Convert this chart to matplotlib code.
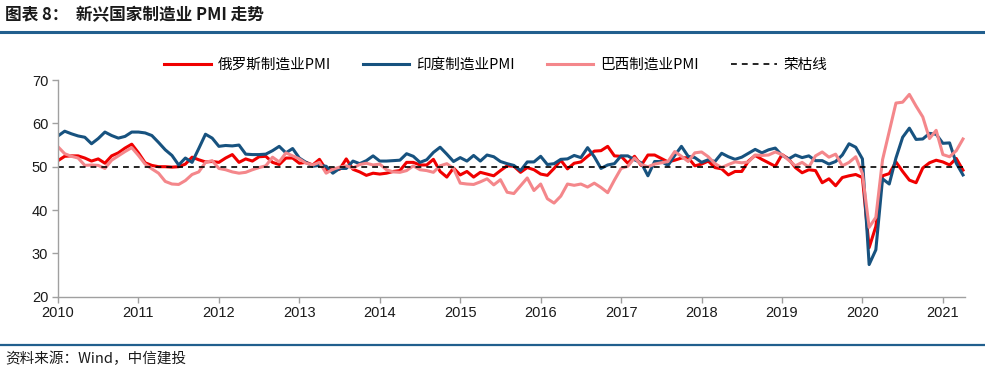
import matplotlib
matplotlib.use('Agg')
import matplotlib.pyplot as plt
import numpy as np
from matplotlib.lines import Line2D

plt.rcParams['font.family'] = ['Noto Sans CJK SC', 'DejaVu Sans']

# monthly, Mar 2010 - Jun 2021
years = [str(y) for y in range(2010, 2022)]

russia = [51.4, 52.4, 52.5, 52.5, 52.0, 51.3, 51.8, 50.8, 52.5, 53.2,
          54.3, 55.2, 53.2, 50.9, 50.3, 50.0, 50.0, 49.9, 50.0, 50.6, 52.2, 51.6,
          51.1, 51.2, 51.0, 52.0, 52.8, 51.0, 51.8, 51.3, 52.3, 52.4, 51.0, 50.5,
          52.0, 52.0, 50.8, 51.0, 50.4, 51.7, 49.3, 49.4, 49.4, 51.8, 49.4, 48.8,
          48.0, 48.5, 48.3, 48.5, 48.9, 49.1, 51.0, 51.0, 50.4, 50.4, 51.7, 48.9,
          47.6, 49.7, 48.1, 48.9, 47.6, 48.7, 48.3, 47.9, 49.1, 50.2, 50.1, 48.7,
          49.8, 49.3, 48.3, 48.0, 49.6, 51.5, 49.5, 50.8, 51.1, 52.4, 53.6, 53.7,
          54.7, 52.5, 52.4, 50.8, 52.4, 50.3, 52.7, 52.7, 51.9, 51.1, 51.5, 52.0,
          52.1, 50.2, 50.6, 51.3, 49.8, 49.5, 48.1, 48.9, 48.9, 51.3, 52.6, 51.7,
          50.9, 50.1, 52.8, 51.8, 49.8, 48.6, 49.3, 49.1, 46.3, 47.2, 45.6, 47.5,
          47.9, 48.2, 47.5, 31.3, 36.2, 47.9, 48.4, 51.1, 48.9, 46.9, 46.3, 49.7,
          50.9, 51.5, 51.1, 50.4, 51.9, 49.2]

india = [57.1, 58.2, 57.6, 57.1, 56.8, 55.3, 56.5, 58.0, 57.2, 56.6,
         57.0, 58.0, 58.0, 57.8, 57.2, 55.6, 53.9, 52.6, 50.4, 52.0, 51.0, 54.2,
         57.5, 56.6, 54.7, 54.9, 54.8, 55.0, 52.9, 52.8, 52.8, 52.9, 53.7, 54.7,
         53.2, 54.2, 52.0, 51.0, 50.1, 50.3, 50.1, 48.5, 49.6, 49.6, 51.3, 50.7,
         51.4, 52.5, 51.3, 51.3, 51.4, 51.5, 53.0, 52.4, 51.0, 51.6, 53.3, 54.5,
         52.9, 51.2, 52.1, 51.3, 52.6, 51.3, 52.7, 52.3, 51.2, 50.7, 50.3, 49.1,
         51.1, 51.1, 52.4, 50.5, 50.7, 51.7, 51.8, 52.6, 52.1, 54.4, 52.3, 49.6,
         50.4, 50.7, 52.5, 52.5, 51.6, 50.9, 47.9, 51.2, 51.2, 50.3, 52.6, 54.7,
         52.4, 52.1, 51.0, 51.6, 51.2, 53.1, 52.3, 51.7, 52.2, 53.1, 54.0, 53.2,
         53.9, 54.3, 52.6, 51.8, 52.7, 52.1, 52.5, 51.4, 51.4, 50.6, 51.2, 52.7,
         55.3, 54.5, 51.8, 27.4, 30.8, 47.2, 46.0, 52.0, 56.8, 58.9, 56.3, 56.4,
         57.7, 57.5, 55.4, 55.5, 50.8, 48.1]

brazil = [54.6, 53.0, 52.4, 52.0, 50.3, 50.4, 50.3, 49.6, 51.5, 52.5,
          53.5, 54.4, 52.6, 50.6, 49.5, 48.5, 46.6, 46.0, 45.9, 46.8, 48.2, 48.8,
          51.0, 51.4, 49.6, 49.3, 48.8, 48.5, 48.7, 49.3, 49.8, 50.2, 52.2, 51.1,
          53.2, 52.5, 51.8, 50.8, 50.4, 51.0, 48.5, 49.4, 49.9, 50.2, 49.7, 50.5,
          50.8, 50.4, 50.6, 49.3, 48.8, 48.7, 49.1, 50.2, 49.3, 49.1, 48.7, 50.2,
          50.7, 49.6, 46.2, 46.0, 45.9, 46.5, 47.2, 45.8, 47.0, 44.1, 43.8, 45.6,
          47.4, 44.5, 46.0, 42.6, 41.6, 43.2, 46.0, 45.7, 46.0, 45.3, 46.2, 45.2,
          44.0, 46.9, 49.6, 50.1, 52.0, 50.5, 50.0, 50.6, 50.9, 51.2, 53.5, 52.4,
          51.2, 53.2, 53.4, 52.3, 50.7, 49.8, 50.5, 51.1, 50.9, 51.1, 52.7, 52.6,
          52.7, 53.4, 52.8, 51.5, 50.2, 51.0, 49.9, 52.5, 53.4, 52.2, 52.9, 50.2,
          51.0, 52.3, 48.4, 36.0, 38.3, 51.6, 58.2, 64.7, 64.9, 66.7, 64.0, 61.5,
          56.5, 58.4, 52.8, 52.3, 53.7, 56.4]

boom_bust = 50

labels = ['俄罗斯制造业PMI', '印度制造业PMI', '巴西制造业PMI', '荣枯线']


def main():
    W, H = 985, 371
    fig = plt.figure(figsize=(W / 100, H / 100), dpi=100)

    # header / footer
    fig.text(5 / W, 1 - 15 / H, '图表 8：  新兴国家制造业 PMI 走势', fontsize=12,
             fontweight='bold', color='#1a1a1a', va='center', ha='left')
    fig.add_artist(Line2D([0, 1], [1 - 32 / H] * 2, color='#215F8E', lw=2.2))
    fig.add_artist(Line2D([0, 1], [1 - 345 / H] * 2, color='#215F8E', lw=1.6))
    fig.text(5 / W, 1 - 359 / H, '资料来源：Wind，中信建投', fontsize=10.5,
             style='italic', color='#1a1a1a', va='center', ha='left')

    left, right = 58 / W, 965 / W
    bottom, top = 1 - 296.6 / H, 1 - 80.1 / H
    ax = fig.add_axes([left, bottom, right - left, top - bottom])

    x = np.arange(len(india))
    ax.plot(x, russia, color='#F00000', lw=2.2, label=labels[0])
    ax.plot(x, india, color='#17527F', lw=2.2, label=labels[1])
    ax.plot(x, brazil, color='#F4878B', lw=2.2, label=labels[2])
    ax.axhline(boom_bust, color='black', lw=1.2, ls=(0, (3.5, 3)), label=labels[3])

    ax.set_xlim(0, 135.3)
    ax.set_ylim(20, 70)
    ax.set_yticks(np.arange(20, 71, 10))
    ax.set_xticks(np.arange(len(years)) * 12)
    ax.set_xticklabels(years)

    for s in ['top', 'right']:
        ax.spines[s].set_visible(False)
    for s in ['left', 'bottom']:
        ax.spines[s].set_color('#A0A0A0')
        ax.spines[s].set_linewidth(1.0)
    ax.tick_params(axis='both', direction='out', length=4, width=1.0,
                   color='#A0A0A0', labelsize=10.5, labelcolor='#1a1a1a', pad=3)
    for t in ax.get_xticklabels() + ax.get_yticklabels():
        t.set_fontfamily(['Liberation Sans', 'DejaVu Sans'])

    fig.legend(loc='center', bbox_to_anchor=(496 / W, 1 - 65 / H), ncol=4,
               frameon=False, fontsize=10.5, handlelength=3.2, handletextpad=0.45,
               columnspacing=2.2)

    fig.savefig('out.png', dpi=100)
    plt.close('all')


if __name__ == '__main__':
    main()
